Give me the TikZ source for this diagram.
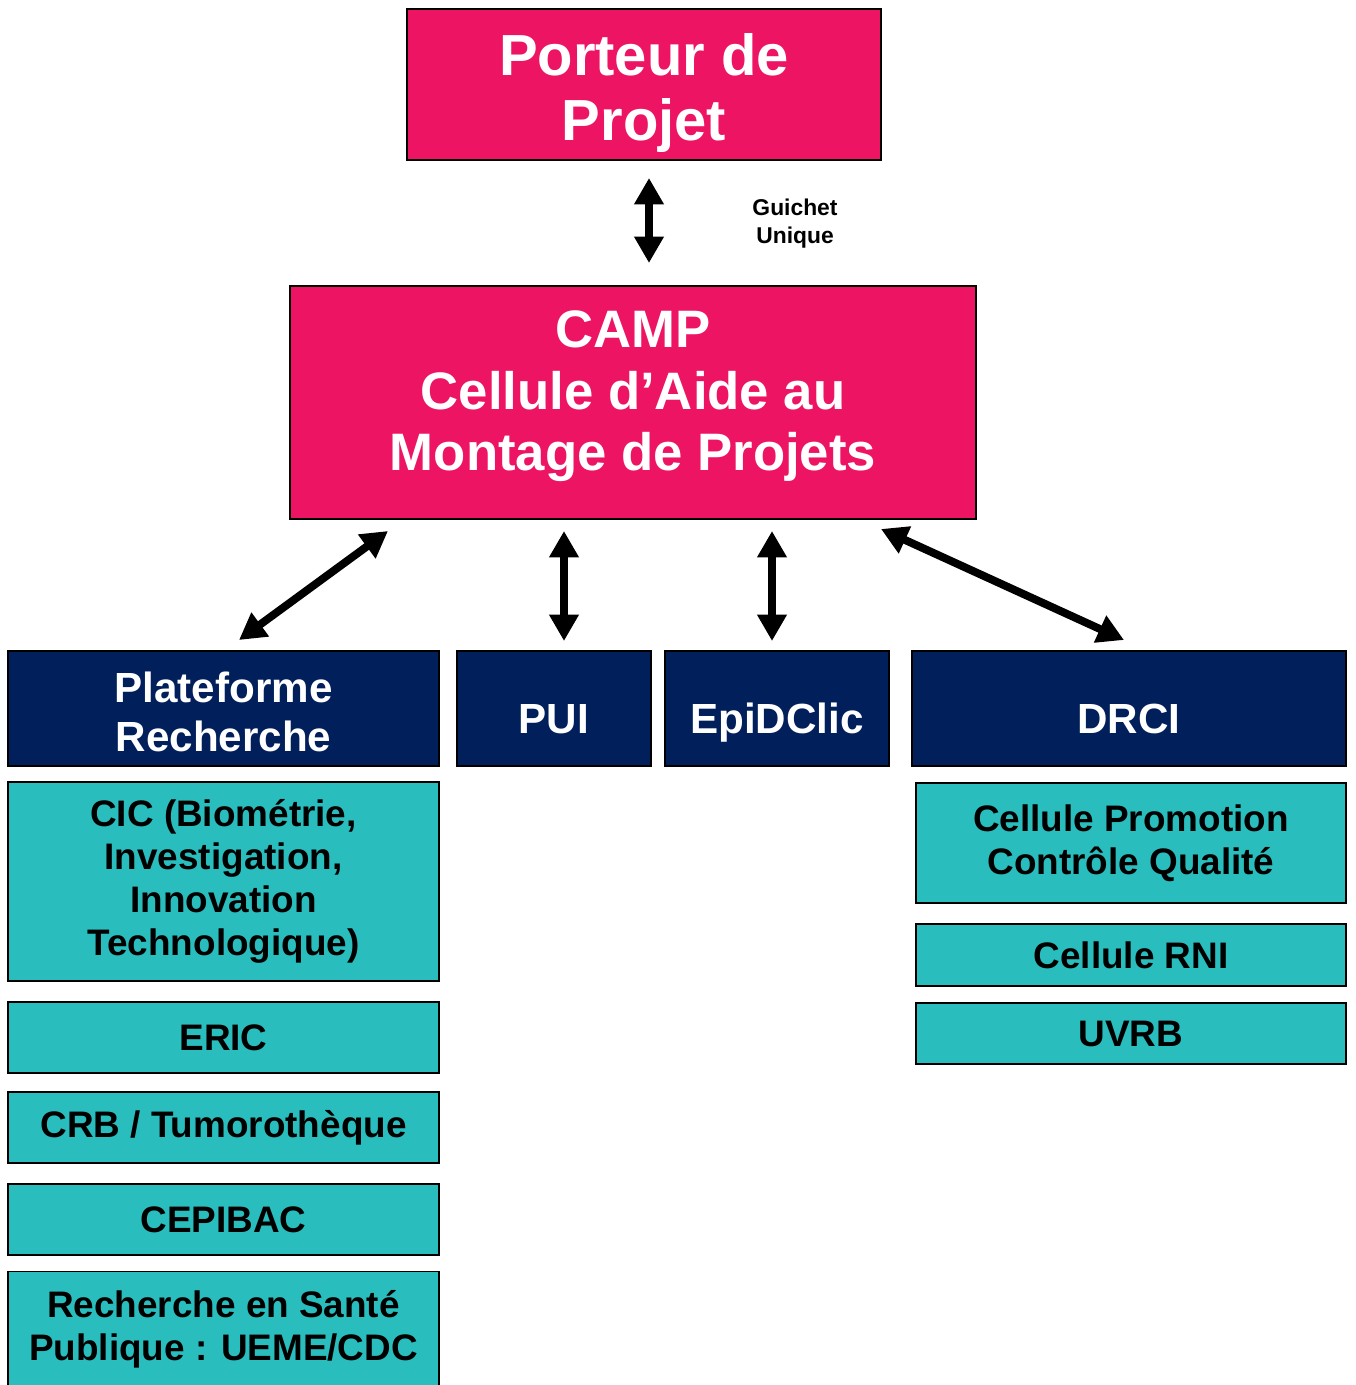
\documentclass[tikz,border=0pt]{standalone}
\usepackage{fontspec}
\setmainfont{Liberation Sans}
\usepackage{xcolor}
\usetikzlibrary{positioning}
\usetikzlibrary{arrows.meta}
\definecolor{campPink}{RGB}{237,20,100}
\definecolor{navyBlue}{RGB}{0,31,91}
\definecolor{tealBox}{RGB}{41,189,189}
\begin{document}
\begin{tikzpicture}[x=0.02cm,y=-0.02cm,
	pinkbox/.style={draw=black,line width=1pt,fill=campPink,text=white,font=\bfseries,align=center,inner sep=0pt},
	navybox/.style={draw=black,line width=1pt,fill=navyBlue,text=white,align=center,inner sep=0pt,minimum height=2.3cm,
		font=\fontsize{24}{28}\selectfont\bfseries},
	onelabel/.style={text height=29pt,text depth=0pt},
	tealbox/.style={draw=black,line width=1pt,fill=tealBox,text=black,align=center,inner sep=0pt,minimum width=8.62cm,
		font=\fontsize{21}{24.4}\selectfont\bfseries},
	biarrow/.style={line width=4.5pt,{Triangle[length=15pt,width=16pt]}-{Triangle[length=15pt,width=16pt]}}]
			\useasboundingbox (0,0) rectangle (1355,1385);
			% top boxes
			\node[pinkbox,minimum width=9.48cm,minimum height=3.02cm,text height=64pt,text depth=0pt,
				font=\fontsize{33}{37}\selectfont\bfseries] (porteur) at (644,84.5) {Porteur de\\Projet};
			\node[pinkbox,minimum width=13.72cm,minimum height=4.66cm,text height=77.7pt,text depth=0pt,
				font=\fontsize{30}{35}\selectfont\bfseries] (camp) at (633,402.5) {CAMP\\Cellule d’Aide au\\Montage de Projets};
			\node[font=\fontsize{13}{15.9}\selectfont\bfseries,align=center] (guichet) at (795,224) {Guichet\\Unique};
			% second row
			\node[navybox,minimum width=8.62cm,text height=49.3pt,text depth=0pt] (plateforme) at (223.5,708.5) {Plateforme\\Recherche};
			\node[navybox,onelabel,minimum width=3.88cm] (pui) at (554,708.5) {PUI};
			\node[navybox,onelabel,minimum width=4.48cm] (epid) at (777,708.5) {EpiDClic};
			\node[navybox,onelabel,minimum width=8.68cm] (drci) at (1129,708.5) {DRCI};
			% left column
			\node[tealbox,minimum height=3.98cm] (cic) at (223.5,881.5) {CIC (Biométrie,\\Investigation,\\Innovation\\Technologique)};
			\node[tealbox,minimum height=1.42cm] (eric) at (223.5,1037.5) {ERIC};
			\node[tealbox,minimum height=1.42cm] (crb) at (223.5,1127.5) {CRB / Tumorothèque};
			\node[tealbox,minimum height=1.42cm] (cepibac) at (223.5,1219.5) {CEPIBAC};
			\node[tealbox,minimum height=2.3cm] (rsp) at (223.5,1329) {Recherche en Santé\\Publique : UEME/CDC};
			% right column
			\node[tealbox,minimum width=8.6cm,minimum height=2.4cm] (promo) at (1131,843) {Cellule Promotion\\Contrôle Qualité};
			\node[tealbox,minimum width=8.6cm,minimum height=1.24cm] (rni) at (1131,955) {Cellule RNI};
			\node[tealbox,minimum width=8.6cm,minimum height=1.22cm] (uvrb) at (1131,1033.5) {UVRB};
			% arrow ends
			\coordinate (p1) at (649,178);
			\coordinate (c1) at (649,263);
			\coordinate (c2) at (388,531);
			\coordinate (pl1) at (239,640);
			\coordinate (c3) at (564,531);
			\coordinate (pu1) at (564,641);
			\coordinate (c4) at (772,531);
			\coordinate (ep1) at (772,641);
			\coordinate (c5) at (881,529);
			\coordinate (dr1) at (1124,640);
			% arrows
			\draw[biarrow] (p1) -- (c1);
			\draw[biarrow] (c2) -- (pl1);
			\draw[biarrow] (c3) -- (pu1);
			\draw[biarrow] (c4) -- (ep1);
			\draw[biarrow] (c5) -- (dr1);
		\end{tikzpicture}
\end{document}
